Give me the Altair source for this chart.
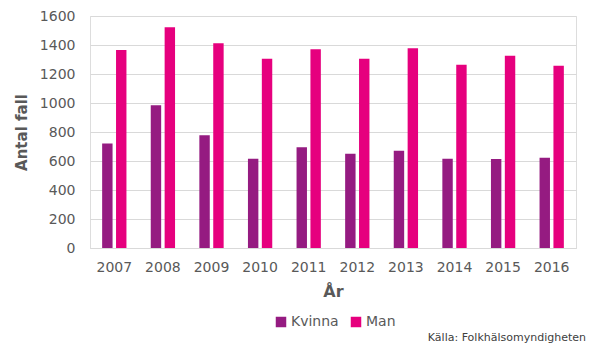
import altair as alt
import pandas as pd

years = ["2007", "2008", "2009", "2010", "2011", "2012", "2013", "2014", "2015", "2016"]
kvinna = [720, 985, 777, 616, 694, 650, 671, 616, 614, 623]
man = [1365, 1522, 1412, 1306, 1370, 1306, 1377, 1264, 1326, 1257]
series = ["Kvinna", "Man"]
colors = ["#951B81", "#E6007E"]

rows = []
for i, y in enumerate(years):
    rows.append({"År": y, "Kön": "Kvinna", "Antal": kvinna[i]})
    rows.append({"År": y, "Kön": "Man", "Antal": man[i]})
df = pd.DataFrame(rows)

FONT = "DejaVu Sans"
GRAY = "#595959"

bars = alt.Chart(df).mark_bar().encode(
    x=alt.X("År:N", sort=years,
            scale=alt.Scale(paddingInner=0.5, paddingOuter=0.25),
            axis=alt.Axis(title="År", labelAngle=0, ticks=False, domain=True,
                          domainColor="#D9D9D9", labelPadding=12, labelFontSize=14,
                          labelColor=GRAY, titleFontSize=16, titleFontWeight="bold",
                          titleColor=GRAY, titlePadding=9, labelFont=FONT, titleFont=FONT)),
    xOffset=alt.XOffset("Kön:N", sort=series, scale=alt.Scale(paddingInner=0.25)),
    y=alt.Y("Antal:Q", scale=alt.Scale(domain=[0, 1600]),
            axis=alt.Axis(title="Antal fall", values=list(range(0, 1601, 200)), format="d",
                          ticks=False, domain=False, gridColor="#D9D9D9",
                          labelPadding=15, labelFontSize=14, labelColor=GRAY,
                          titleFontSize=15, titleFontWeight="bold", titleColor=GRAY,
                          titlePadding=10, labelFont=FONT, titleFont=FONT)),
    color=alt.Color("Kön:N", sort=series,
                    scale=alt.Scale(domain=series, range=colors),
                    legend=alt.Legend(title=None, orient="none", direction="horizontal",
                                      legendX=184, legendY=299, symbolType="square",
                                      symbolSize=110, symbolStrokeWidth=0, labelOffset=3,
                                      labelFontSize=14, labelColor=GRAY, labelFont=FONT,
                                      columnPadding=10, symbolOpacity=1)),
)

src = alt.Chart(pd.DataFrame({"t": ["Källa:  Folkhälsomyndigheten"]})).mark_text(
    align="right", baseline="middle", fontSize=11, font=FONT, color="#404040"
).encode(text="t:N", x=alt.value(496), y=alt.value(322))

chart = alt.layer(bars, src).properties(
    width=486, height=232,
    autosize=alt.AutoSizeParams(type="none"),
    padding={"left": 90, "top": 16, "right": 14, "bottom": 107},
).configure_view(stroke=None).configure(background="white")

chart.save("out.html", embed_options={"renderer": "svg", "actions": False})
